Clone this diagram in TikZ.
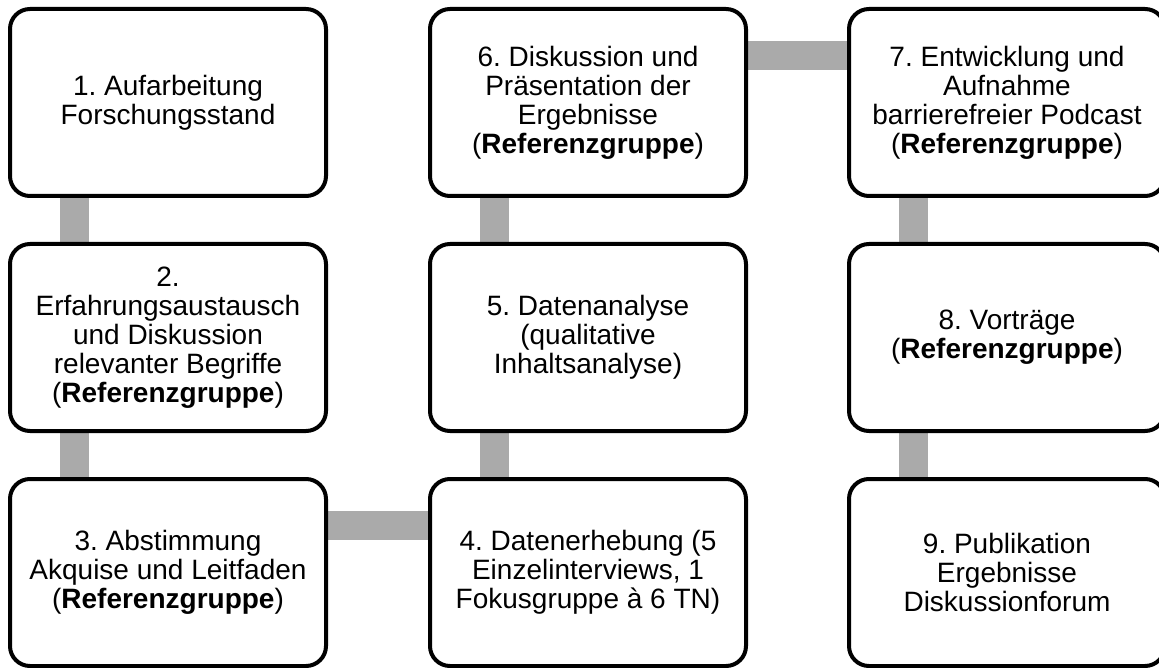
\documentclass[tikz,border=0pt]{standalone}
\usepackage{fontspec}
\setmainfont{Liberation Sans}
\usetikzlibrary{backgrounds}
\definecolor{conngray}{HTML}{AAAAAA}
\frenchspacing
\tikzset{
  stepbox/.style={draw=black, fill=white, line width=4pt, rounded corners=20pt,
    rectangle, minimum width=316pt, minimum height=187pt, align=center,
    inner sep=0pt, font=\fontsize{28}{29}\selectfont},
  conn/.style={draw=conngray, line width=29pt}
}
\begin{document}
\begin{tikzpicture}[x=1pt,y=-1pt]
\useasboundingbox (0,0) rectangle (1159,668);
\clip (0,0) rectangle (1159,668);
\node[stepbox] (b1) at (168,102.5) {1. Aufarbeitung\\Forschungsstand};
\node[stepbox] (b2) at (168,337.5) {2.\\Erfahrungsaustausch\\und Diskussion\\relevanter Begriffe\\(\textbf{Referenzgruppe})};
\node[stepbox] (b3) at (168,572.5) {3. Abstimmung\\Akquise und Leitfaden\\(\textbf{Referenzgruppe})};
\node[stepbox] (b4) at (588,572.5) {4. Datenerhebung (5\\Einzelinterviews, 1\\Fokusgruppe à 6 TN)};
\node[stepbox] (b5) at (588,337.5) {5. Datenanalyse\\(qualitative\\Inhaltsanalyse)};
\node[stepbox] (b6) at (588,102.5) {6. Diskussion und\\Präsentation der\\Ergebnisse\\(\textbf{Referenzgruppe})};
\node[stepbox] (b7) at (1007,102.5) {7. Entwicklung und\\Aufnahme\\barrierefreier Podcast\\(\textbf{Referenzgruppe})};
\node[stepbox] (b8) at (1007,337.5) {8. Vorträge\\(\textbf{Referenzgruppe})};
\node[stepbox] (b9) at (1007,572.5) {9. Publikation\\Ergebnisse\\Diskussionforum};
\begin{scope}[on background layer]
\draw[conn] ([xshift=-94pt]b1.south) -- ([xshift=-94pt]b2.north);
\draw[conn] ([xshift=-94pt]b2.south) -- ([xshift=-94pt]b3.north);
\draw[conn] ([yshift=47pt]b3.east) -- ([yshift=47pt]b4.west);
\draw[conn] ([xshift=-94pt]b4.north) -- ([xshift=-94pt]b5.south);
\draw[conn] ([xshift=-94pt]b5.north) -- ([xshift=-94pt]b6.south);
\draw[conn] ([yshift=47pt]b6.east) -- ([yshift=47pt]b7.west);
\draw[conn] ([xshift=-94pt]b7.south) -- ([xshift=-94pt]b8.north);
\draw[conn] ([xshift=-94pt]b8.south) -- ([xshift=-94pt]b9.north);
\end{scope}
\end{tikzpicture}
\end{document}
